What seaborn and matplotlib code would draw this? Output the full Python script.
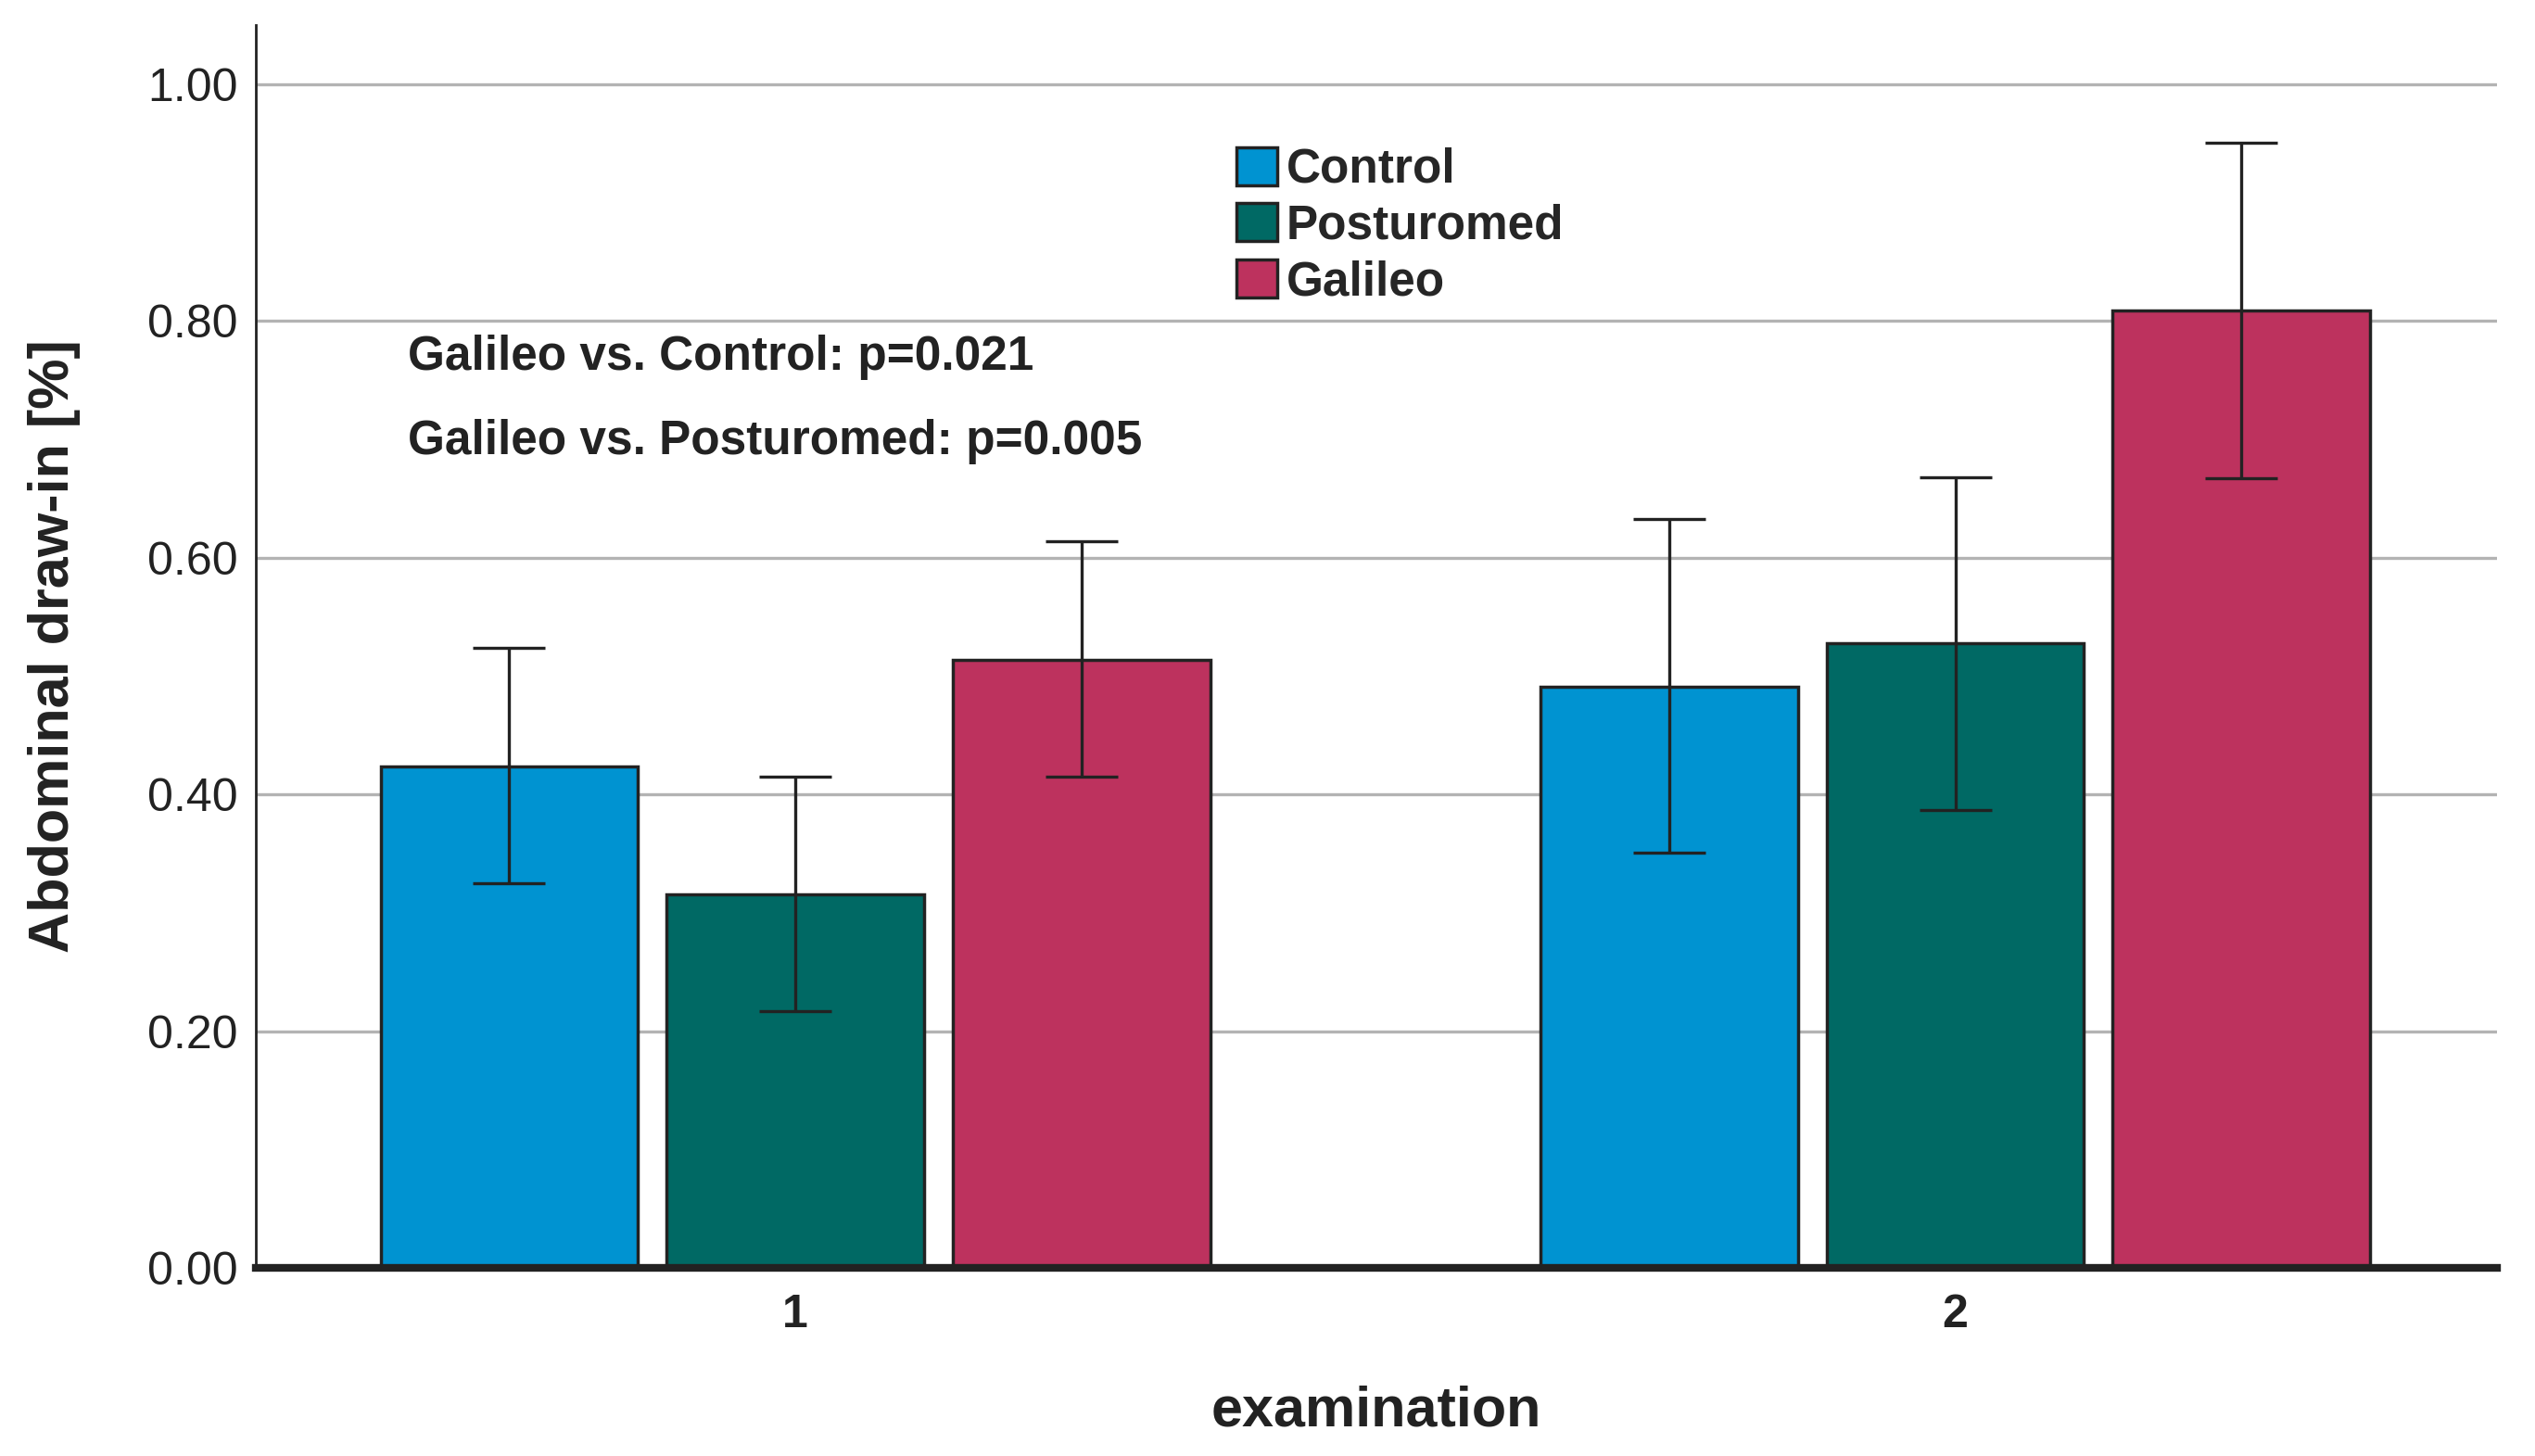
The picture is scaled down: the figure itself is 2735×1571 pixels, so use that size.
import pandas as pd
import seaborn as sns
import matplotlib.pyplot as plt
from matplotlib.patches import Patch

examinations = ["1", "2"]
groups = ["Control", "Posturomed", "Galileo"]
means = {
    "Control": [0.424, 0.491],
    "Posturomed": [0.316, 0.528],
    "Galileo": [0.514, 0.809],
}
lower = {
    "Control": [0.325, 0.351],
    "Posturomed": [0.217, 0.387],
    "Galileo": [0.415, 0.667],
}
upper = {
    "Control": [0.524, 0.633],
    "Posturomed": [0.415, 0.668],
    "Galileo": [0.614, 0.950],
}
colors = ["#0093d1", "#006964", "#bd325e"]
y_ticks = [0.0, 0.2, 0.4, 0.6, 0.8, 1.0]
notes = ["Galileo vs. Control: p=0.021", "Galileo vs. Posturomed: p=0.005"]

rows = []
for g in groups:
    for i, e in enumerate(examinations):
        rows.append({"examination": e, "group": g, "value": means[g][i],
                     "lo": lower[g][i], "hi": upper[g][i]})
df = pd.DataFrame(rows)

sns.set_style("white")
plt.rcParams["font.family"] = ["Liberation Sans", "DejaVu Sans"]

fig, ax = plt.subplots(figsize=(27.35, 15.71), dpi=100)
fig.subplots_adjust(left=0.101, right=0.985, bottom=0.129, top=0.983)

# grid behind bars
for t in y_ticks[1:]:
    ax.axhline(t, color="#b3b3b3", lw=2.4, zorder=0)

sns.barplot(data=df, x="examination", y="value", hue="group", order=examinations,
            hue_order=groups, palette=colors, saturation=1, errorbar=None, width=0.74,
            gap=0.1, edgecolor="#222222", linewidth=2.5, ax=ax, legend=False, zorder=2)

# error bars at bar centres
for cont, g in zip(ax.containers, groups):
    for bar, e in zip(cont, examinations):
        r = df[(df.group == g) & (df.examination == e)].iloc[0]
        xc = bar.get_x() + bar.get_width() / 2
        ax.errorbar(xc, r.value, yerr=[[r.value - r.lo], [r.hi - r.value]],
                    fmt="none", ecolor="#222222", elinewidth=2.4, capsize=28,
                    capthick=2.4, zorder=3)

ax.set_xlim(-0.465, 1.467)
ax.set_ylim(0, 1.05)
ax.set_yticks(y_ticks)
ax.set_yticklabels([f"{t:.2f}" for t in y_ticks], fontsize=36)
ax.set_xticks([0, 1])
ax.set_xticklabels(examinations, fontsize=36, fontweight="bold")
ax.tick_params(axis="y", length=0, pad=14, colors="#222222")
ax.tick_params(axis="x", length=0, pad=20, colors="#222222")

ax.set_xlabel("examination", fontsize=44, fontweight="bold", color="#222222", labelpad=38)
ax.set_ylabel("Abdominal draw-in [%]", fontsize=44, fontweight="bold", color="#222222", labelpad=52)

for s in ["top", "right"]:
    ax.spines[s].set_visible(False)
ax.spines["left"].set_color("#222222")
ax.spines["left"].set_linewidth(2)
ax.spines["bottom"].set_color("#222222")
ax.spines["bottom"].set_linewidth(6)
ax.spines["bottom"].set_zorder(5)

ax.text(-0.334, 0.769, notes[0], fontsize=37, fontweight="bold", color="#222222", va="center")
ax.text(-0.334, 0.698, notes[1], fontsize=37, fontweight="bold", color="#222222", va="center")

handles = [Patch(facecolor=c, edgecolor="#222222", linewidth=2.5, label=g)
           for c, g in zip(colors, groups)]
ax.legend(handles=handles, loc="upper left", bbox_to_anchor=(0.429, 0.917), frameon=False,
          prop={"size": 37, "weight": "bold"}, handlelength=0.85, handleheight=0.85,
          handletextpad=0.2, labelspacing=0.22, borderaxespad=0)

fig.savefig("out.png", dpi=100)
